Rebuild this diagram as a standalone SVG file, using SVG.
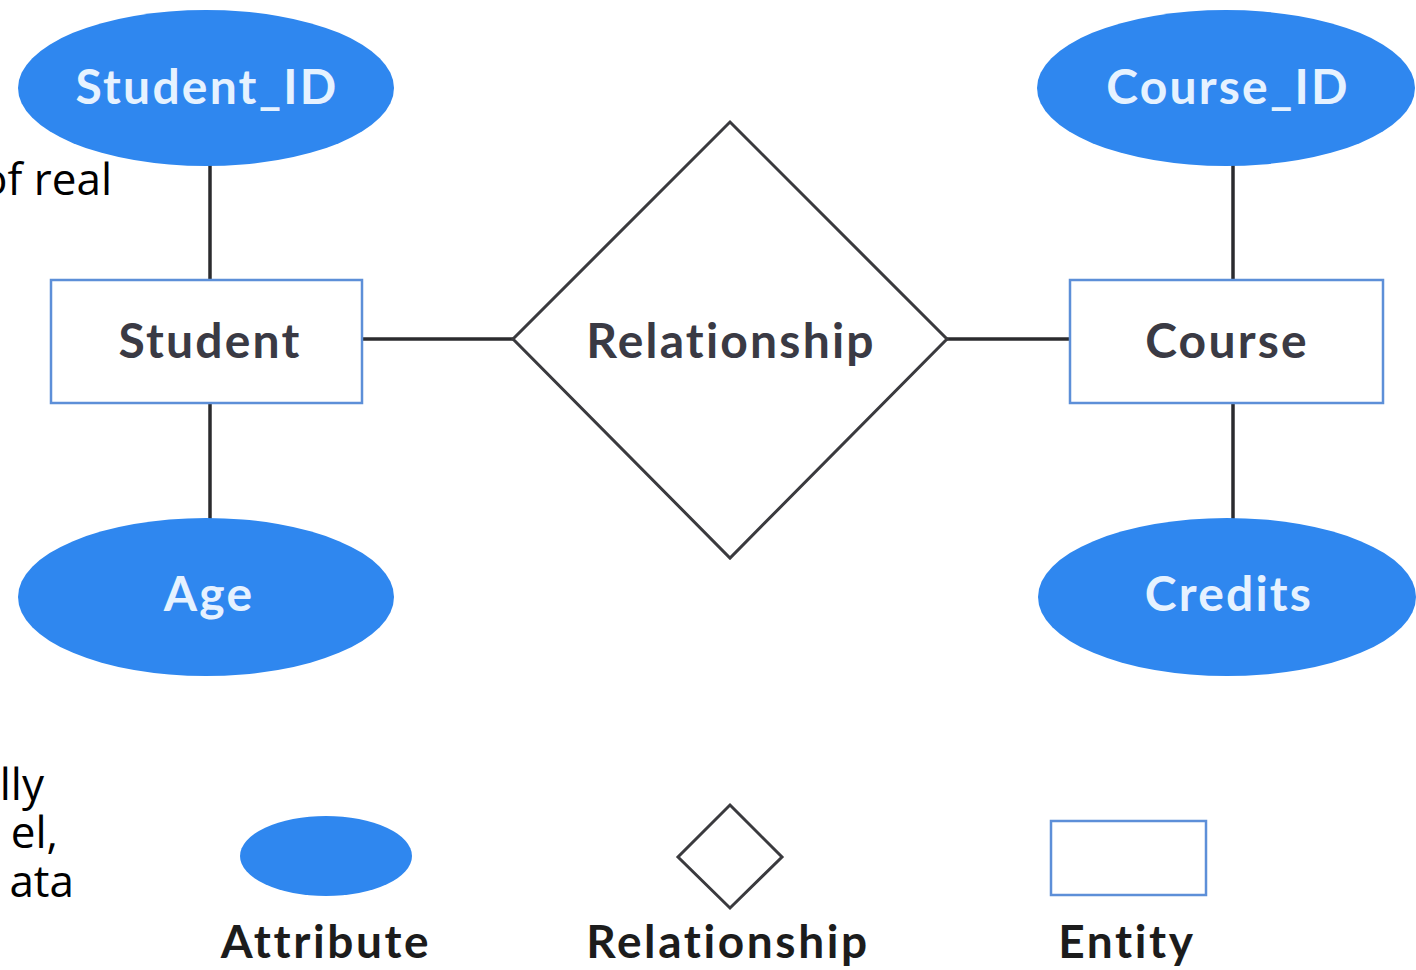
<svg xmlns="http://www.w3.org/2000/svg" width="1416" height="970" viewBox="0 0 1416 970">
  <style>
    .attr { fill: #2f87ef; }
    .attr-label { font-family: Lato, "Noto Sans", sans-serif; font-weight: 700; font-size: 48px; letter-spacing: 2.2px; fill: #e6f2ff; text-anchor: middle; }
    .entity { fill: #ffffff; stroke: #5d8fd8; stroke-width: 2.5; }
    .rel { fill: #ffffff; stroke: #3a3a3e; stroke-width: 3; stroke-linejoin: miter; }
    .node-label { font-family: Lato, "Noto Sans", sans-serif; font-weight: 700; font-size: 48px; letter-spacing: 2.2px; fill: #3a3a44; text-anchor: middle; }
    .legend-label { font-family: Lato, "Noto Sans", sans-serif; font-weight: 700; font-size: 46px; letter-spacing: 2.6px; fill: #1c1c1c; text-anchor: middle; }
    .edge { stroke: #2b2b2e; stroke-width: 3.5; fill: none; }
    .side-text { font-family: "Open Sans", "Noto Sans", sans-serif; font-size: 44px; fill: #000000; text-anchor: end; }
  </style>

  <rect x="0" y="0" width="1416" height="970" fill="#ffffff"/>

  <!-- connectors -->
  <g id="connectors">
    <line class="edge" x1="210" y1="160" x2="210" y2="281"/>
    <line class="edge" x1="210" y1="403" x2="210" y2="522"/>
    <line class="edge" x1="1233" y1="160" x2="1233" y2="281"/>
    <line class="edge" x1="1233" y1="403" x2="1233" y2="522"/>
    <line class="edge" x1="362" y1="339" x2="513" y2="339"/>
    <line class="edge" x1="947" y1="339" x2="1070" y2="339"/>
  </g>

  <!-- attributes -->
  <g id="attr-student-id">
    <ellipse class="attr" cx="206" cy="88" rx="188" ry="78"/>
    <text class="attr-label" x="207" y="104">Student_ID</text>
  </g>
  <g id="attr-age">
    <ellipse class="attr" cx="206" cy="597" rx="188" ry="79"/>
    <text class="attr-label" x="209" y="611">Age</text>
  </g>
  <g id="attr-course-id">
    <ellipse class="attr" cx="1226" cy="88" rx="189" ry="78"/>
    <text class="attr-label" x="1228" y="104">Course_ID</text>
  </g>
  <g id="attr-credits">
    <ellipse class="attr" cx="1227" cy="597" rx="189" ry="79"/>
    <text class="attr-label" x="1229" y="611">Credits</text>
  </g>

  <!-- entities -->
  <g id="entity-student">
    <rect class="entity" x="51" y="280" width="311" height="123"/>
    <text class="node-label" x="210" y="358">Student</text>
  </g>
  <g id="entity-course">
    <rect class="entity" x="1070" y="280" width="313" height="123"/>
    <text class="node-label" x="1227" y="358">Course</text>
  </g>

  <!-- relationship -->
  <g id="relationship">
    <polygon class="rel" points="730,122 947,339 730,558 513,339"/>
    <text class="node-label" x="731" y="358">Relationship</text>
  </g>

  <!-- legend -->
  <g id="legend-attribute">
    <ellipse class="attr" cx="326" cy="856" rx="86" ry="40"/>
    <text class="legend-label" x="326" y="958">Attribute</text>
  </g>
  <g id="legend-relationship">
    <polygon class="rel" points="730,805 782,857 730,908 678,857"/>
    <text class="legend-label" x="728" y="958">Relationship</text>
  </g>
  <g id="legend-entity">
    <rect class="entity" x="1051" y="821" width="155" height="74"/>
    <text class="legend-label" x="1127" y="958">Entity</text>
  </g>

  <!-- clipped text running in from the left edge -->
  <g id="side-text">
    <text class="side-text" x="112" y="195">of real</text>
    <text class="side-text" x="44" y="800">lly</text>
    <text class="side-text" x="58" y="848">el,</text>
    <text class="side-text" x="74" y="897">ata</text>
  </g>
</svg>
